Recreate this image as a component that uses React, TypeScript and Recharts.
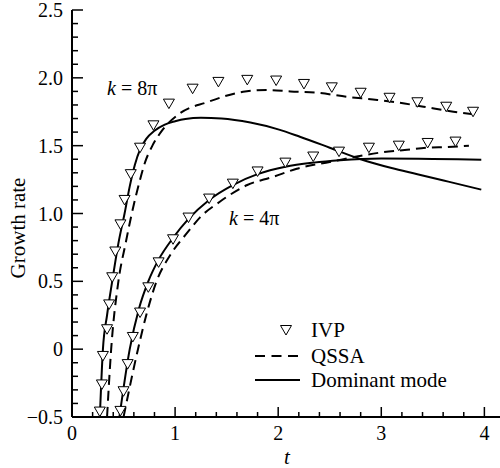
import React from "react";
import { ComposedChart, Line, Scatter, XAxis, YAxis } from "recharts";

// k = 8π
const dom8T = [0.27, 0.30, 0.34, 0.39, 0.45, 0.51, 0.56, 0.61, 0.66, 0.72, 0.80, 0.90, 1.0, 1.1, 1.25, 1.45, 1.73, 2.0, 2.21, 2.5, 2.8, 3.1, 3.35, 3.65, 3.97];
const dom8V = [-0.5, 0.0, 0.25, 0.5, 0.78, 1.0, 1.2, 1.36, 1.47, 1.55, 1.61, 1.655, 1.68, 1.697, 1.705, 1.70, 1.67, 1.62, 1.566, 1.485, 1.40, 1.335, 1.29, 1.235, 1.176];
const qssa8T = [0.34, 0.38, 0.45, 0.52, 0.58, 0.65, 0.71, 0.78, 0.88, 1.05, 1.31, 1.66, 1.89, 2.12, 2.38, 2.67, 2.92, 3.18, 3.41, 3.70, 3.9];
const qssa8V = [-0.5, 0.0, 0.5, 0.78, 1.0, 1.22, 1.38, 1.5, 1.618, 1.74, 1.82, 1.897, 1.91, 1.9, 1.89, 1.86, 1.84, 1.816, 1.787, 1.75, 1.73];
const ivp8T = [0.27, 0.29, 0.30, 0.34, 0.36, 0.39, 0.42, 0.47, 0.51, 0.57, 0.66, 0.79, 0.94, 1.17, 1.42, 1.70, 1.98, 2.25, 2.52, 2.8, 3.08, 3.35, 3.63, 3.89];
const ivp8V = [-0.46, -0.26, -0.05, 0.147, 0.33, 0.53, 0.72, 0.92, 1.10, 1.29, 1.485, 1.65, 1.81, 1.92, 1.97, 1.985, 1.98, 1.955, 1.93, 1.89, 1.853, 1.82, 1.787, 1.75];

// k = 4π
const dom4T = [0.46, 0.56, 0.65, 0.74, 0.84, 0.98, 1.13, 1.33, 1.56, 1.8, 2.07, 2.34, 2.6, 3.0, 3.5, 3.97];
const dom4V = [-0.5, 0.0, 0.3, 0.5, 0.66, 0.82, 0.96, 1.1, 1.21, 1.29, 1.345, 1.375, 1.393, 1.405, 1.402, 1.397];
const qssa4T = [0.50, 0.64, 0.72, 0.82, 0.95, 1.12, 1.24, 1.44, 1.70, 1.95, 2.18, 2.5, 3.0, 3.25, 3.45, 3.64, 3.85];
const qssa4V = [-0.5, 0.0, 0.25, 0.5, 0.69, 0.86, 0.97, 1.09, 1.21, 1.27, 1.33, 1.38, 1.45, 1.47, 1.485, 1.49, 1.50];
const ivp4T = [0.47, 0.50, 0.54, 0.59, 0.66, 0.74, 0.84, 0.98, 1.13, 1.33, 1.56, 1.8, 2.07, 2.34, 2.59, 2.88, 3.17, 3.45, 3.72];
const ivp4V = [-0.455, -0.31, -0.11, 0.09, 0.27, 0.456, 0.64, 0.81, 0.97, 1.11, 1.22, 1.31, 1.375, 1.42, 1.456, 1.485, 1.5, 1.52, 1.53];

const xTicks = [0, 0.2, 0.4, 0.6, 0.8, 1, 1.2, 1.4, 1.6, 1.8, 2, 2.2, 2.4, 2.6, 2.8, 3, 3.2, 3.4, 3.6, 3.8, 4];
const xMajorLabels: Record<string, string> = { "0": "0", "1": "1", "2": "2", "3": "3", "4": "4" };
const yTicks = [-0.5, -0.4, -0.3, -0.2, -0.1, 0, 0.1, 0.2, 0.3, 0.4, 0.5, 0.6, 0.7, 0.8, 0.9, 1.0, 1.1, 1.2, 1.3, 1.4, 1.5, 1.6, 1.7, 1.8, 1.9, 2.0, 2.1, 2.2, 2.3, 2.4, 2.5];
const yMajorLabels: Record<string, string> = { "-0.5": "\u22120.5", "0": "0", "0.5": "0.5", "1": "1.0", "1.5": "1.5", "2": "2.0", "2.5": "2.5" };

const zip = (ts: number[], vs: number[]) => ts.map((t, i) => ({ t, v: vs[i] }));
const dom8 = zip(dom8T, dom8V);
const qssa8 = zip(qssa8T, qssa8V);
const ivp8 = zip(ivp8T, ivp8V);
const dom4 = zip(dom4T, dom4V);
const qssa4 = zip(qssa4T, qssa4V);
const ivp4 = zip(ivp4T, ivp4V);

const FONT = "'Liberation Serif', serif";
const FS = 20;
const FS_BIG = 21;

const isMajor = (v: number, step: number) => Math.abs(v / step - Math.round(v / step)) < 1e-6;
const key = (v: number) => String(Math.round(v * 10) / 10);

const BottomTick = (p: any) => {
  const v = p.payload.value;
  const major = isMajor(v, 1);
  return (
    <g>
      <line x1={p.x} x2={p.x} y1={p.y} y2={p.y - (major ? 10 : 5)} stroke="#000" strokeWidth={1.5} />
      {major && (
        <text x={p.x} y={p.y + 16} textAnchor="middle" dominantBaseline="central" fontFamily="Liberation Serif" fontSize={FS} fill="#000">
          {xMajorLabels[key(v)]}
        </text>
      )}
    </g>
  );
};
const TopTick = (p: any) => {
  const major = isMajor(p.payload.value, 1);
  return <line x1={p.x} x2={p.x} y1={p.y} y2={p.y + (major ? 10 : 5)} stroke="#000" strokeWidth={1.5} />;
};
const LeftTick = (p: any) => {
  const v = p.payload.value;
  const major = isMajor(v, 0.5);
  return (
    <g>
      <line x1={p.x} x2={p.x + (major ? 11 : 6)} y1={p.y} y2={p.y} stroke="#000" strokeWidth={1.5} />
      {major && (
        <text x={p.x - 9} y={p.y} textAnchor="end" dominantBaseline="central" fontFamily="Liberation Serif" fontSize={FS} fill="#000">
          {yMajorLabels[key(v)]}
        </text>
      )}
    </g>
  );
};
const RightTick = (p: any) => {
  const major = isMajor(p.payload.value, 0.5);
  return <line x1={p.x} x2={p.x - (major ? 11 : 6)} y1={p.y} y2={p.y} stroke="#000" strokeWidth={1.5} />;
};

const Tri = (p: any) => {
  const { cx, cy } = p;
  if (cx == null || cy == null) return null;
  return (
    <polygon
      points={`${cx - 5.5},${cy - 4.5} ${cx + 5.5},${cy - 4.5} ${cx},${cy + 5}`}
      fill="#fff"
      stroke="#000"
      strokeWidth={1}
    />
  );
};

const txt: React.CSSProperties = {
  position: "absolute",
  fontFamily: FONT,
  fontSize: FS,
  lineHeight: "20px",
  color: "#000",
  whiteSpace: "nowrap",
};

export default function App() {
  return (
    <div style={{ position: "fixed", left: 0, top: 0, width: 500, height: 468, overflow: "hidden", background: "#fff", fontFamily: FONT }}>
      <ComposedChart width={510} height={468} margin={{ top: 10, right: 5, bottom: 0, left: 0 }}>
        <XAxis
          xAxisId="b"
          type="number"
          dataKey="t"
          domain={[0, 4.2]}
          ticks={xTicks}
          allowDataOverflow
          orientation="bottom"
          height={51}
          tickSize={0}
          tickMargin={0}
          tickLine={false}
          axisLine={{ stroke: "#000", strokeWidth: 2 }}
          tick={<BottomTick />}
          interval={0}
        />
        <XAxis
          xAxisId="top"
          type="number"
          dataKey="t"
          domain={[0, 4.2]}
          ticks={xTicks}
          allowDataOverflow
          orientation="top"
          height={0}
          tickSize={0}
          tickMargin={0}
          tickLine={false}
          axisLine={{ stroke: "#000", strokeWidth: 2 }}
          tick={<TopTick />}
          interval={0}
        />
        <YAxis
          yAxisId="l"
          type="number"
          domain={[-0.5, 2.5]}
          ticks={yTicks}
          allowDataOverflow
          orientation="left"
          width={72}
          tickSize={0}
          tickMargin={0}
          tickLine={false}
          axisLine={{ stroke: "#000", strokeWidth: 2 }}
          tick={<LeftTick />}
          interval={0}
        />
        <YAxis
          yAxisId="r"
          type="number"
          domain={[-0.5, 2.5]}
          ticks={yTicks}
          allowDataOverflow
          orientation="right"
          width={0}
          tickSize={0}
          tickMargin={0}
          tickLine={false}
          axisLine={{ stroke: "#000", strokeWidth: 2 }}
          tick={<RightTick />}
          interval={0}
        />
        <Line xAxisId="b" yAxisId="l" data={qssa8} dataKey="v" type="monotone" stroke="#000" strokeWidth={2} strokeDasharray="10 6" dot={false} isAnimationActive={false} />
        <Line xAxisId="b" yAxisId="l" data={qssa4} dataKey="v" type="monotone" stroke="#000" strokeWidth={2} strokeDasharray="10 6" dot={false} isAnimationActive={false} />
        <Line xAxisId="b" yAxisId="l" data={dom8} dataKey="v" type="monotone" stroke="#000" strokeWidth={2} dot={false} isAnimationActive={false} />
        <Line xAxisId="b" yAxisId="l" data={dom4} dataKey="v" type="monotone" stroke="#000" strokeWidth={2} dot={false} isAnimationActive={false} />
        <Scatter xAxisId="b" yAxisId="l" data={ivp8} dataKey="v" shape={<Tri />} isAnimationActive={false} />
        <Scatter xAxisId="b" yAxisId="l" data={ivp4} dataKey="v" shape={<Tri />} isAnimationActive={false} />
      </ComposedChart>

      {/* axis titles */}
      <div style={{ ...txt, fontSize: FS_BIG, left: 18, top: 228, transform: "translate(-50%, -50%) rotate(-90deg)" }}>Growth rate</div>
      <div style={{ ...txt, fontSize: FS_BIG, left: 287, top: 457, transform: "translate(-50%, -50%)", fontStyle: "italic" }}>t</div>

      {/* annotations */}
      <div style={{ ...txt, left: 107, top: 78 }}>
        <i>k</i> = 8π
      </div>
      <div style={{ ...txt, left: 229, top: 208 }}>
        <i>k</i> = 4π
      </div>

      {/* legend */}
      <svg style={{ position: "absolute", left: 250, top: 318 }} width={60} height={75}>
        <polygon points="30.5,7.5 41.5,7.5 36,17" fill="#fff" stroke="#000" strokeWidth={1} />
        <line x1={5} x2={52} y1={38} y2={38} stroke="#000" strokeWidth={2} strokeDasharray="10 6.5" />
        <line x1={5} x2={50} y1={62} y2={62} stroke="#000" strokeWidth={2} />
      </svg>
      <div style={{ ...txt, fontSize: FS_BIG, left: 311, top: 320 }}>IVP</div>
      <div style={{ ...txt, fontSize: FS_BIG, left: 311, top: 346 }}>QSSA</div>
      <div style={{ ...txt, fontSize: FS_BIG, left: 311, top: 370 }}>Dominant mode</div>
    </div>
  );
}
